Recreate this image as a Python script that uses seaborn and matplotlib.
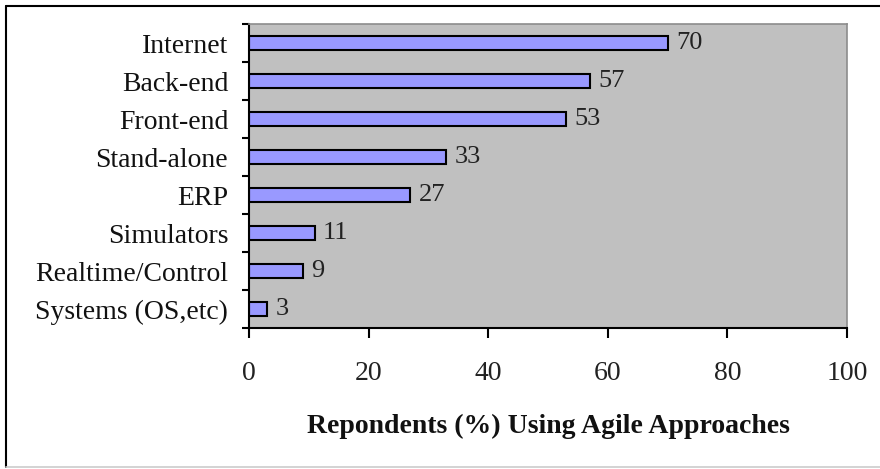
import matplotlib
matplotlib.use("Agg")
import matplotlib.pyplot as plt
import seaborn as sns
import pandas as pd
from matplotlib.lines import Line2D

categories = ["Internet", "Back-end", "Front-end", "Stand-alone", "ERP",
              "Simulators", "Realtime/Control", "Systems (OS,etc)"]
values = [70, 57, 53, 33, 27, 11, 9, 3]
x_ticks = [0, 20, 40, 60, 80, 100]
x_label = "Repondents (%) Using Agile Approaches"

sns.set_theme(style="white")
plt.rcParams['font.family'] = ['Liberation Serif', 'DejaVu Serif']

df = pd.DataFrame({"category": categories, "value": values})

fig = plt.figure(figsize=(8.8, 4.69), dpi=100)
ax = fig.add_axes([249/880, 1-328/469, 598/880, 304/469])
ax.set_facecolor("#c0c0c0")

sns.barplot(data=df, x="value", y="category", order=categories, orient="h",
            color="#9999ff", edgecolor="black", linewidth=1.5, width=0.37,
            saturation=1, ax=ax)

for p, v in zip(ax.patches, values):
    ax.annotate(f"{v}", (p.get_width(), p.get_y() + p.get_height()/2),
                xytext=(6, 0), textcoords="offset points",
                ha="left", va="center", fontsize=19, color="#222222")

ax.set_xlim(0, 100)
ax.set_ylim(len(categories) - 0.5, -0.5)
ax.set_xticks(x_ticks)
ax.set_xticklabels([str(t) for t in x_ticks], fontsize=20, color="#222222")
ax.tick_params(axis="x", direction="out", length=7, width=1.5, pad=17,
               bottom=True, color="black")
ax.set_yticks(range(len(categories)))
ax.set_yticklabels(categories, fontsize=20, color="#111111")
ax.tick_params(axis="y", which="major", length=0, pad=15)
ax.set_yticks([i - 0.5 for i in range(len(categories) + 1)], minor=True)
ax.tick_params(axis="y", which="minor", direction="out", length=5, width=1.5,
               left=True, color="black")
ax.set_ylabel("")
ax.set_xlabel(x_label, fontsize=20, fontweight="bold", labelpad=20, color="#111111")

for side in ["left", "bottom"]:
    ax.spines[side].set_color("black")
    ax.spines[side].set_linewidth(1.5)
for side in ["top", "right"]:
    ax.spines[side].set_visible(True)
    ax.spines[side].set_color("#8c8c8c")
    ax.spines[side].set_linewidth(1.2)

# outer frame
fig.add_artist(Line2D([6/880, 1.0], [1-6/469, 1-6/469], color="black", lw=1.5,
                      transform=fig.transFigure))
fig.add_artist(Line2D([6/880, 6/880], [1-6/469, 1-467/469], color="black", lw=1.5,
                      transform=fig.transFigure))
fig.add_artist(Line2D([6/880, 1.0], [1-467/469, 1-467/469], color="#cccccc", lw=1.2,
                      transform=fig.transFigure))

fig.savefig("out.png", dpi=100)
